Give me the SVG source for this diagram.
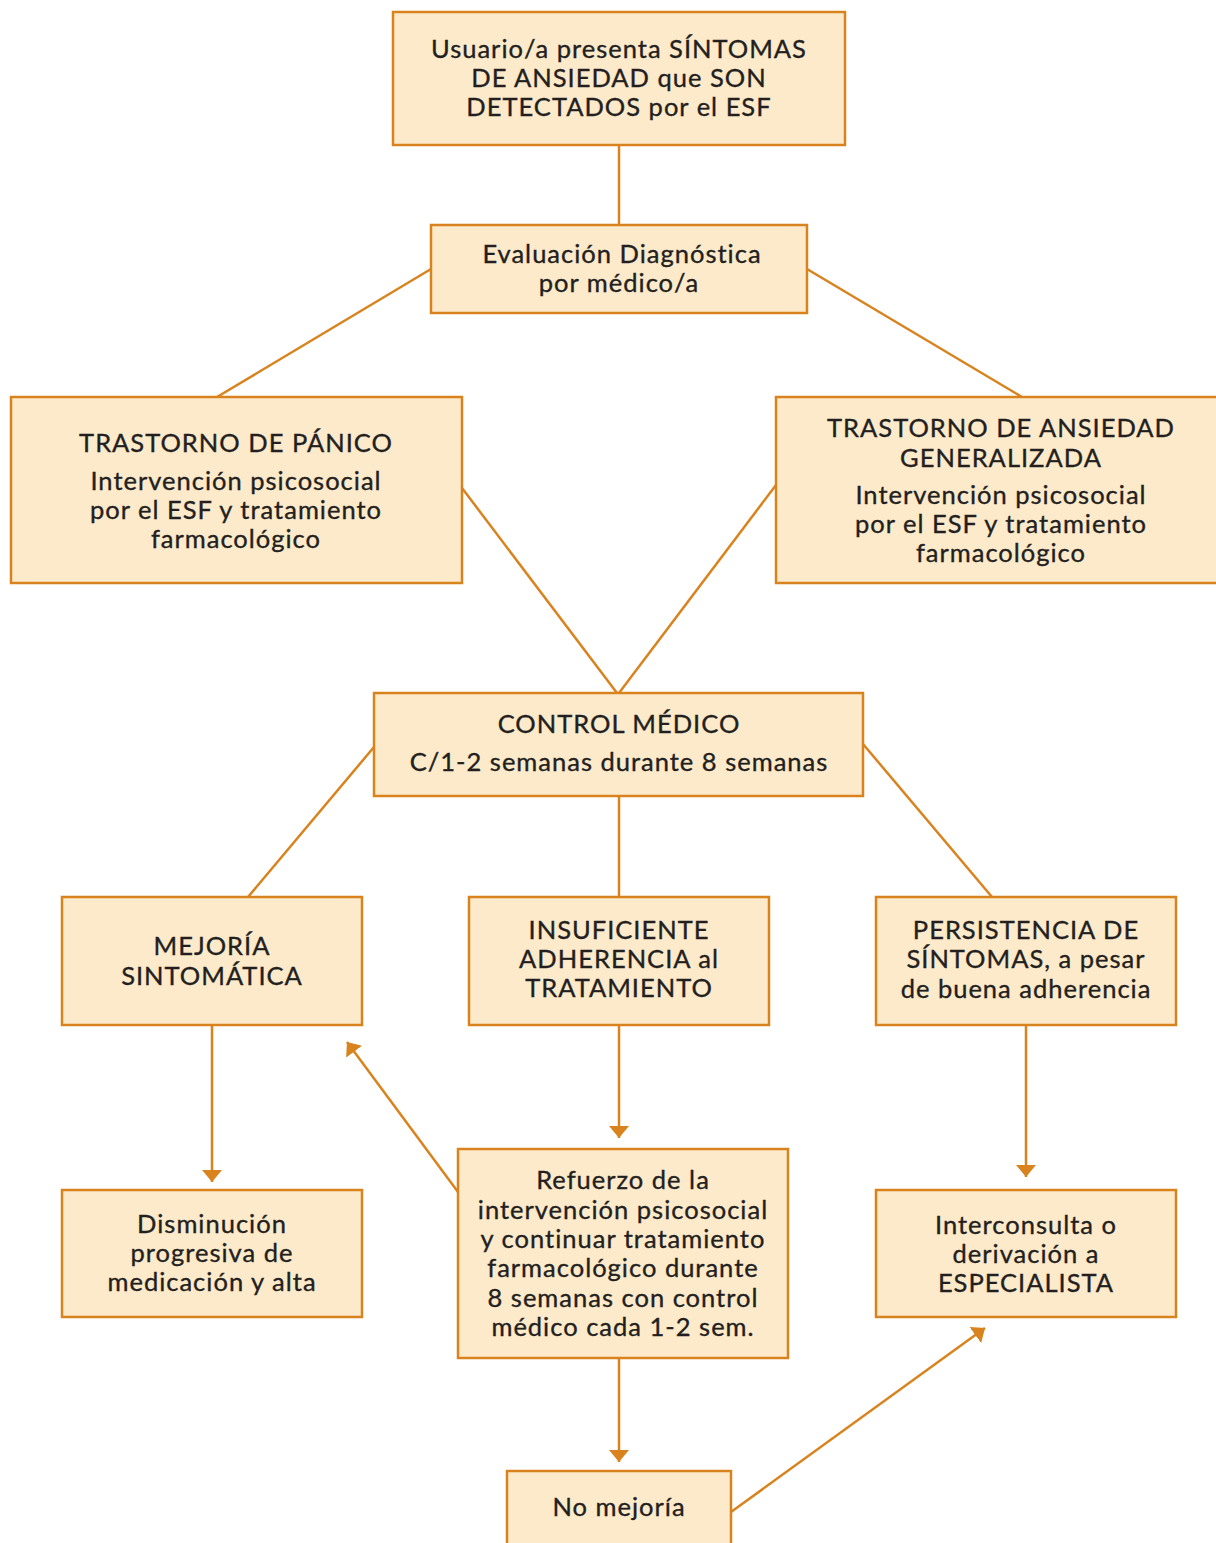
<svg xmlns="http://www.w3.org/2000/svg" width="1216" height="1543" viewBox="0 0 1216 1543">
<style>
.box{fill:#FDEACB;stroke:#D9831F;stroke-width:2.5}
.t{font-family:Lato,"Noto Sans","Liberation Sans",sans-serif;font-size:25.5px;fill:#231F20;stroke:#231F20;stroke-width:0.35;text-anchor:middle;letter-spacing:1px}
.c{stroke:#D9831F;stroke-width:2.5;fill:none}
</style>
<defs>
<marker id="ah" viewBox="0 0 12 20" refX="12" refY="10" markerWidth="12" markerHeight="20" orient="auto" markerUnits="userSpaceOnUse">
<path d="M0,0 L12,10 L0,20 Z" fill="#D9831F"/>
</marker>
</defs>
<rect width="1216" height="1543" fill="#FFFFFF"/>
<g id="connectors">
<line class="c" x1="619" y1="145" x2="619" y2="225"/>
<line class="c" x1="431" y1="269" x2="217" y2="397"/>
<line class="c" x1="807" y1="269" x2="1022" y2="397"/>
<line class="c" x1="462" y1="488" x2="617" y2="693"/>
<line class="c" x1="776" y1="485" x2="619" y2="693"/>
<line class="c" x1="374" y1="747" x2="248" y2="897"/>
<line class="c" x1="619" y1="796" x2="619" y2="897"/>
<line class="c" x1="863" y1="744" x2="992" y2="897"/>
<line class="c" x1="212" y1="1025" x2="212" y2="1182" marker-end="url(#ah)"/>
<line class="c" x1="619" y1="1025" x2="619" y2="1138" marker-end="url(#ah)"/>
<line class="c" x1="1026" y1="1025" x2="1026" y2="1177" marker-end="url(#ah)"/>
<line class="c" x1="458" y1="1192" x2="347" y2="1042" marker-end="url(#ah)"/>
<line class="c" x1="619" y1="1358" x2="619" y2="1462" marker-end="url(#ah)"/>
<line class="c" x1="731" y1="1512" x2="985" y2="1328" marker-end="url(#ah)"/>
</g>
<g id="n1">
<rect class="box" x="393" y="12" width="452" height="133"/>
<text class="t" x="619" y="58">Usuario/a presenta SÍNTOMAS</text>
<text class="t" x="619" y="87">DE ANSIEDAD que SON</text>
<text class="t" x="619" y="116">DETECTADOS por el ESF</text>
</g>
<g id="n2">
<rect class="box" x="431" y="225" width="376" height="88"/>
<text class="t" x="622" y="263">Evaluación Diagnóstica</text>
<text class="t" x="619" y="292">por médico/a</text>
</g>
<g id="n3">
<rect class="box" x="11" y="397" width="451" height="186"/>
<text class="t" x="236" y="452">TRASTORNO DE PÁNICO</text>
<text class="t" x="236" y="490">Intervención psicosocial</text>
<text class="t" x="236" y="519">por el ESF y tratamiento</text>
<text class="t" x="236" y="548">farmacológico</text>
</g>
<g id="n4">
<rect class="box" x="776" y="397" width="450" height="186"/>
<text class="t" x="1001" y="437">TRASTORNO DE ANSIEDAD</text>
<text class="t" x="1001" y="467">GENERALIZADA</text>
<text class="t" x="1001" y="504">Intervención psicosocial</text>
<text class="t" x="1001" y="533">por el ESF y tratamiento</text>
<text class="t" x="1001" y="562">farmacológico</text>
</g>
<g id="n5">
<rect class="box" x="374" y="693" width="489" height="103"/>
<text class="t" x="619" y="733">CONTROL MÉDICO</text>
<text class="t" x="619" y="771">C/1-2 semanas durante 8 semanas</text>
</g>
<g id="n6">
<rect class="box" x="62" y="897" width="300" height="128"/>
<text class="t" x="212" y="955">MEJORÍA</text>
<text class="t" x="212" y="985">SINTOMÁTICA</text>
</g>
<g id="n7">
<rect class="box" x="469" y="897" width="300" height="128"/>
<text class="t" x="619" y="939">INSUFICIENTE</text>
<text class="t" x="619" y="968">ADHERENCIA al</text>
<text class="t" x="619" y="997">TRATAMIENTO</text>
</g>
<g id="n8">
<rect class="box" x="876" y="897" width="300" height="128"/>
<text class="t" x="1026" y="939">PERSISTENCIA DE</text>
<text class="t" x="1026" y="968">SÍNTOMAS, a pesar</text>
<text class="t" x="1026" y="998">de buena adherencia</text>
</g>
<g id="n9">
<rect class="box" x="62" y="1190" width="300" height="127"/>
<text class="t" x="212" y="1233">Disminución</text>
<text class="t" x="212" y="1262">progresiva de</text>
<text class="t" x="212" y="1291">medicación y alta</text>
</g>
<g id="n10">
<rect class="box" x="458" y="1149" width="330" height="209"/>
<text class="t" x="623" y="1189">Refuerzo de la</text>
<text class="t" x="623" y="1219">intervención psicosocial</text>
<text class="t" x="623" y="1248">y continuar tratamiento</text>
<text class="t" x="623" y="1277">farmacológico durante</text>
<text class="t" x="623" y="1307">8 semanas con control</text>
<text class="t" x="623" y="1336">médico cada 1-2 sem.</text>
</g>
<g id="n11">
<rect class="box" x="876" y="1190" width="300" height="127"/>
<text class="t" x="1026" y="1234">Interconsulta o</text>
<text class="t" x="1026" y="1263">derivación  a</text>
<text class="t" x="1026" y="1292">ESPECIALISTA</text>
</g>
<g id="n12">
<rect class="box" x="507" y="1471" width="224" height="90"/>
<text class="t" x="619" y="1516">No mejoría</text>
</g>
</svg>
